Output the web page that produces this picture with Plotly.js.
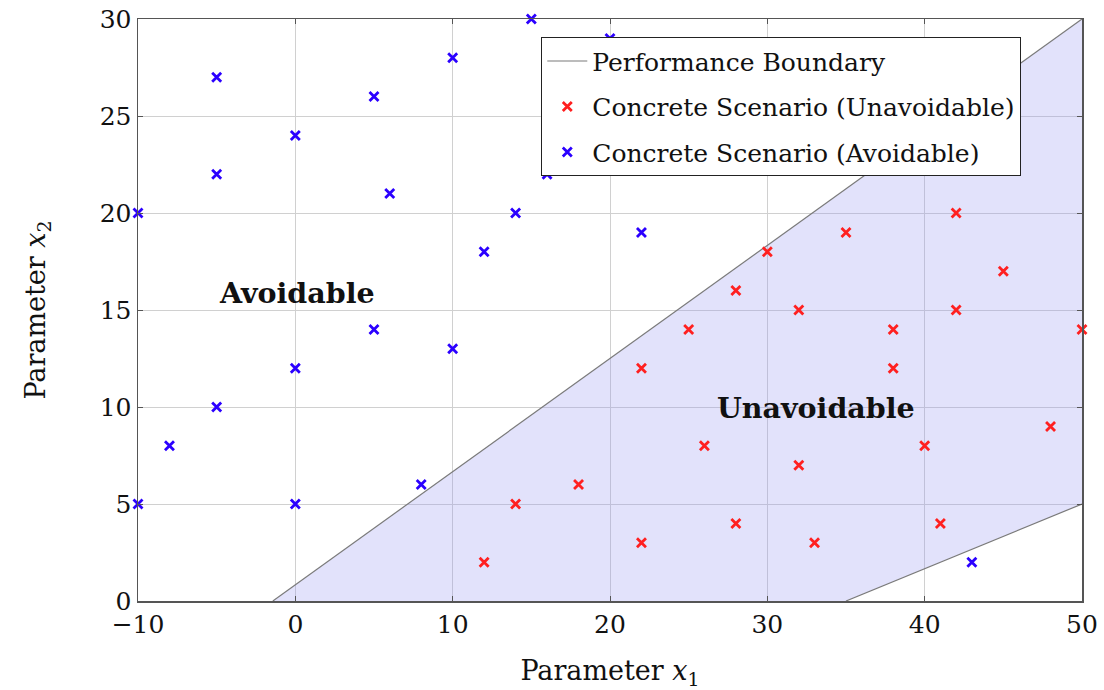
<!DOCTYPE html>
<html>
<head>
<meta charset="utf-8">
<script src="https://cdn.plot.ly/plotly-3.0.1.min.js"></script>
<style>html,body{margin:0;padding:0;background:#fff;}#chart{width:1104px;height:690px;}</style>
</head>
<body>
<div id="chart"></div>
<script>
// Performance boundary (two line segments) and the unavoidable region between them
const boundaryUpperX = [-1.43, 50];
const boundaryUpperY = [0, 30];
const boundaryLowerX = [35, 50];
const boundaryLowerY = [0, 5];
const regionX = [-1.43, 50, 50, 35, -1.43];
const regionY = [0, 30, 5, 0, 0];

// Concrete scenarios (unavoidable, red)
const unavoidX = [12, 14, 18, 22, 22, 25, 26, 28, 28, 30, 32, 32, 33, 35, 38, 38, 40, 41, 42, 42, 45, 48, 50];
const unavoidY = [2, 5, 6, 12, 3, 14, 8, 16, 4, 18, 15, 7, 3, 19, 14, 12, 8, 4, 20, 15, 17, 9, 14];

// Concrete scenarios (avoidable, blue)
const avoidX = [-10, -10, -8, -5, -5, -5, 0, 0, 0, 5, 5, 6, 8, 10, 10, 12, 14, 15, 16, 20, 22, 43];
const avoidY = [20, 5, 8, 27, 22, 10, 24, 12, 5, 26, 14, 21, 6, 28, 13, 18, 20, 30, 22, 29, 19, 2];

// Region labels
const labelText = ['<b>Avoidable</b>', '<b>Unavoidable</b>'];
const labelX = [0.1, 33.1];
const labelY = [15.9, 9.95];

const FONT = 'DejaVu Serif, Liberation Serif, serif';
const markerStyle = (c) => ({symbol: 'x-thin', size: 9, line: {color: c, width: 2.8}, color: c});

const traces = [
  {x: regionX, y: regionY, type: 'scatter', mode: 'none', fill: 'toself',
   fillcolor: 'rgba(150,150,240,0.28)', showlegend: false, hoverinfo: 'skip'},
  {x: boundaryUpperX, y: boundaryUpperY, type: 'scatter', mode: 'lines',
   line: {color: '#7a7a7a', width: 1.2}, name: 'Performance Boundary', legendgroup: 'b'},
  {x: boundaryLowerX, y: boundaryLowerY, type: 'scatter', mode: 'lines',
   line: {color: '#7a7a7a', width: 1.2}, name: 'Performance Boundary', legendgroup: 'b', showlegend: false},
  {x: unavoidX, y: unavoidY, type: 'scatter', mode: 'markers',
   marker: markerStyle('#ff2020'), name: 'Concrete Scenario (Unavoidable)', cliponaxis: false},
  {x: avoidX, y: avoidY, type: 'scatter', mode: 'markers',
   marker: markerStyle('#2b00ff'), name: 'Concrete Scenario (Avoidable)', cliponaxis: false}
];

const annotations = labelText.map((t, i) => ({
  x: labelX[i], y: labelY[i], xref: 'x', yref: 'y', text: t, showarrow: false,
  font: {family: FONT, size: 28.5, color: '#111'}
}));

const layout = {
  width: 1104, height: 690,
  margin: {l: 138, r: 22, t: 19, b: 89},
  paper_bgcolor: '#fff', plot_bgcolor: '#fff',
  font: {family: FONT, size: 25, color: '#111'},
  showlegend: true,
  legend: {x: 0.427, y: 0.969, xanchor: 'left', yanchor: 'top',
           bgcolor: '#fff', bordercolor: '#222', borderwidth: 1.2,
           font: {family: FONT, size: 25, color: '#111'}, itemwidth: 40},
  xaxis: {range: [-10, 50], dtick: 10, tick0: 0, showgrid: true, gridcolor: '#d0d0d0', gridwidth: 1,
          zeroline: false, showline: true, linecolor: '#555', linewidth: 1.5, mirror: 'allticks',
          ticks: 'inside', ticklen: 5, tickcolor: '#555',
          tickfont: {family: FONT, size: 25, color: '#111'},
          title: {text: 'Parameter <i>x</i><sub>1</sub>', standoff: 24, font: {family: FONT, size: 27, color: '#111'}}},
  yaxis: {range: [0, 30], dtick: 5, showgrid: true, gridcolor: '#d0d0d0', gridwidth: 1,
          zeroline: false, showline: true, linecolor: '#555', linewidth: 1.5, mirror: 'allticks',
          ticks: 'inside', ticklen: 5, tickcolor: '#555',
          tickfont: {family: FONT, size: 25, color: '#111'},
          title: {text: 'Parameter <i>x</i><sub>2</sub>', standoff: 46, font: {family: FONT, size: 27, color: '#111'}}},
  annotations: annotations
};

Plotly.newPlot('chart', traces, layout, {displayModeBar: false, staticPlot: true});
</script>
</body>
</html>
